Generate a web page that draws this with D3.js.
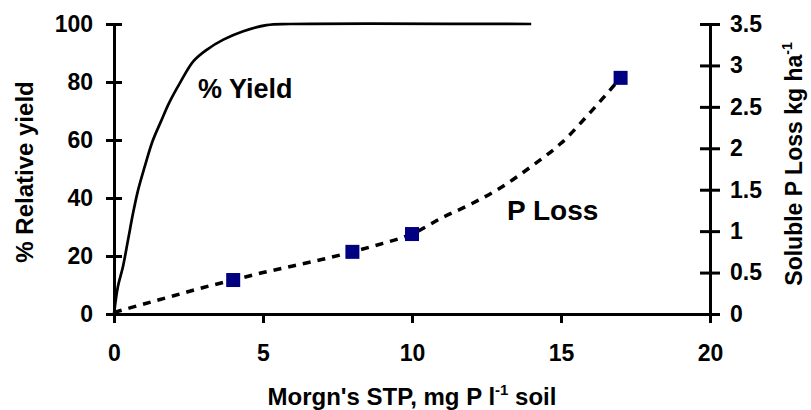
<!DOCTYPE html>
<html>
<head>
<meta charset="utf-8">
<style>
  body { margin: 0; background: #fff; }
  text { font-family: "Liberation Sans", Arial, sans-serif; font-weight: bold; fill: #000; }
</style>
</head>
<body>
<div id="container"></div>
<script src="https://cdn.jsdelivr.net/npm/d3@7"></script>
<script>
// % relative yield curve
const yieldX = [0, 0.13, 0.3, 0.47, 0.64, 0.81, 1.03, 1.29, 1.58, 1.85, 2.21, 2.66, 3.11, 3.67, 4.34, 5.12, 5.91, 14];
const yieldY = [0, 9.4, 16.3, 25.5, 34.8, 42.8, 50.8, 59.5, 66.5, 72.8, 79.6, 87.1, 91.1, 94.6, 97.5, 99.6, 100, 100];

// P loss trend (dashed) and measured points (squares)
const lossX = [0, 1, 2, 3, 4, 5, 6, 7, 8, 9, 10, 11, 12, 13, 14, 15, 16, 17];
const lossY = [0.02, 0.12, 0.22, 0.32, 0.41, 0.5, 0.58, 0.66, 0.75, 0.85, 0.965, 1.16, 1.33, 1.53, 1.78, 2.06, 2.44, 2.85];
const pointX = [4, 8, 10, 17];
const pointY = [0.41, 0.75, 0.965, 2.85];

const xTicks = [0, 5, 10, 15, 20];
const leftTicks = [0, 20, 40, 60, 80, 100];
const rightTicks = [0, 0.5, 1, 1.5, 2, 2.5, 3, 3.5];

const width = 811, height = 410;
const svg = d3.select("#container").append("svg")
    .attr("width", width)
    .attr("height", height);

const x = d3.scaleLinear().domain([0, 20]).range([114, 710]);
const yL = d3.scaleLinear().domain([0, 100]).range([314, 24]);
const yR = d3.scaleLinear().domain([0, 3.5]).range([314, 24]);

// axes
const gx = svg.append("g")
    .attr("transform", "translate(0,314)")
    .call(d3.axisBottom(x).tickValues(xTicks).tickSizeOuter(0).tickSize(9).tickPadding(22));

const gl = svg.append("g")
    .attr("transform", "translate(114,0)")
    .call(d3.axisLeft(yL).tickValues(leftTicks).tickSizeOuter(0).tickSize(8).tickPadding(13));
gl.selectAll(".tick line").attr("x2", 8).attr("x1", -8);

const gr = svg.append("g")
    .attr("transform", "translate(710,0)")
    .call(d3.axisRight(yR).tickValues(rightTicks).tickFormat(d => d).tickSizeOuter(0).tickSize(10).tickPadding(10));
gr.selectAll(".tick line").attr("x1", -10).attr("x2", 10);

[gx, gl, gr].forEach(g => {
    g.selectAll("path.domain").attr("stroke", "#000").attr("stroke-width", 3);
    g.selectAll(".tick line").attr("stroke", "#000").attr("stroke-width", 3);
    g.selectAll(".tick text")
        .attr("font-family", "Liberation Sans, Arial, sans-serif")
        .attr("font-weight", "bold")
        .attr("font-size", 23)
        .attr("fill", "#000");
});

// yield curve
const yieldLine = d3.line()
    .x(d => x(d[0]))
    .y(d => yL(d[1]))
    .curve(d3.curveCatmullRom.alpha(0.5));
svg.append("path")
    .datum(d3.zip(yieldX, yieldY))
    .attr("d", yieldLine)
    .attr("fill", "none")
    .attr("stroke", "#000")
    .attr("stroke-width", 2.7);

// P loss trend
const lossLine = d3.line()
    .x(d => x(d[0]))
    .y(d => yR(d[1]))
    .curve(d3.curveCatmullRom.alpha(0.5));
svg.append("path")
    .datum(d3.zip(lossX, lossY))
    .attr("d", lossLine)
    .attr("fill", "none")
    .attr("stroke", "#000")
    .attr("stroke-width", 3.5)
    .attr("stroke-dasharray", "8,7");

svg.selectAll("rect.pt")
    .data(d3.zip(pointX, pointY))
    .join("rect")
    .attr("class", "pt")
    .attr("x", d => x(d[0]) - 7)
    .attr("y", d => yR(d[1]) - 7)
    .attr("width", 14)
    .attr("height", 14)
    .attr("fill", "#000080");

// labels
svg.append("text").attr("x", 198).attr("y", 98).attr("font-size", 27).text("% Yield");
svg.append("text").attr("x", 507).attr("y", 220).attr("font-size", 28).text("P Loss");

const xt = svg.append("text")
    .attr("x", 412).attr("y", 405)
    .attr("text-anchor", "middle")
    .attr("font-size", 24);
xt.append("tspan").text("Morgn's STP, mg P l");
xt.append("tspan").attr("font-size", 15).attr("dy", -10).text("-1");
xt.append("tspan").attr("dy", 10).text(" soil");

svg.append("text")
    .attr("transform", "translate(33,172) rotate(-90)")
    .attr("text-anchor", "middle")
    .attr("font-size", 24)
    .text("% Relative yield");

const rt = svg.append("text")
    .attr("transform", "translate(802,164) rotate(-90)")
    .attr("text-anchor", "middle")
    .attr("font-size", 23);
rt.append("tspan").text("Soluble P Loss kg ha");
rt.append("tspan").attr("font-size", 14).attr("dy", -10).text("-1");
</script>
</body>
</html>
